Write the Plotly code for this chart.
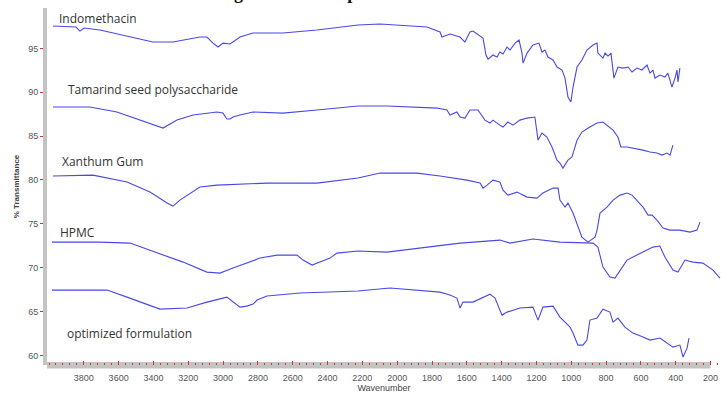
import plotly.graph_objects as go

# ---------------- data ----------------
indo_wn = [3977, 3845, 3822, 3799, 3707, 3518, 3403, 3288, 3133, 3093, 3058, 3029, 3001, 2960, 2903, 2828, 2656, 2461, 2225,
           2099, 2024, 1829, 1754, 1743, 1697, 1639, 1611, 1582, 1565, 1536, 1507, 1490, 1478, 1450, 1427, 1410, 1392, 1369,
           1352, 1323, 1300, 1283, 1277, 1254, 1220, 1186, 1168, 1151, 1134, 1105, 1082, 1053, 1036, 1019, 1002, 990, 967,
           939, 910, 875, 852, 847, 818, 806, 789, 772, 755, 732, 703, 674, 651, 623, 594, 565, 548, 531, 519, 491, 462,
           445, 422, 404, 393, 387, 376]
indo_t = [97.54, 97.43, 96.97, 97.32, 97.09, 96.29, 95.72, 95.72, 96.29, 96.29, 95.60, 95.15, 95.60, 95.49, 96.29, 96.75, 96.75,
          97.09, 97.66, 97.77, 97.66, 97.43, 96.86, 96.29, 96.63, 96.29, 95.72, 96.86, 96.97, 96.52, 96.17, 94.24, 93.78,
          94.24, 94.01, 94.58, 94.35, 95.15, 94.81, 95.60, 95.95, 94.46, 93.32, 94.46, 95.38, 95.60, 94.58, 94.81, 94.01,
          93.67, 92.87, 92.53, 91.61, 89.45, 88.88, 90.59, 92.87, 93.67, 94.81, 95.38, 95.60, 94.46, 93.89, 94.46, 94.12,
          94.46, 91.61, 92.87, 92.75, 92.87, 92.30, 92.75, 92.53, 93.10, 92.18, 92.53, 91.61, 91.96, 91.73, 92.18, 90.59,
          91.61, 92.53, 91.16, 92.75]

tamarind_wn = [3977, 3765, 3610, 3477, 3345, 3265, 3173, 3035, 3001, 2978, 2960, 2943, 2903, 2828, 2656, 2461, 2225, 2059,
               1771, 1714, 1697, 1657, 1639, 1611, 1582, 1536, 1496, 1467, 1450, 1410, 1392, 1364, 1335, 1295, 1254, 1209,
               1191, 1168, 1140, 1111, 1082, 1065, 1048, 1019, 996, 967, 939, 893, 852, 818, 789, 760, 732, 715, 680, 646,
               588, 548, 508, 479, 450, 433, 416]
tamarind_t = [88.31, 88.31, 87.74, 86.82, 85.91, 86.82, 87.40, 87.74, 87.62, 86.94, 86.94, 87.17, 87.40, 87.74, 87.62, 87.97,
              88.42, 88.42, 88.19, 87.97, 87.40, 87.74, 87.17, 87.05, 87.97, 87.97, 86.82, 86.48, 86.82, 86.25, 86.03, 86.60,
              86.25, 86.82, 87.05, 87.17, 84.54, 85.34, 84.89, 83.75, 82.26, 81.92, 81.35, 82.26, 82.61, 84.54, 85.46, 86.03,
              86.48, 86.60, 86.14, 85.68, 84.89, 83.75, 83.75, 83.63, 83.40, 83.18, 83.06, 82.83, 83.06, 82.83, 83.97]

xanthum_wn = [3977, 3747, 3552, 3420, 3322, 3288, 3248, 3133, 3035, 2748, 2461, 2225, 2099, 1886, 1754, 1599, 1524, 1507,
              1484, 1450, 1410, 1392, 1364, 1312, 1254, 1197, 1163, 1105, 1076, 1065, 1036, 1019, 990, 962, 939, 904, 864,
              852, 835, 795, 760, 720, 680, 651, 623, 588, 559, 536, 508, 473, 433, 376, 318, 278, 261]
xanthum_t = [80.44, 80.55, 79.76, 78.61, 77.36, 77.02, 77.70, 79.19, 79.41, 79.64, 79.64, 80.21, 80.78, 80.78, 80.44, 79.98,
             79.64, 79.07, 79.41, 79.98, 79.76, 78.84, 78.27, 78.61, 78.04, 77.93, 78.50, 79.07, 79.07, 77.70, 76.90, 77.36,
             76.22, 74.62, 73.48, 72.91, 73.48, 74.28, 76.22, 76.90, 77.70, 78.27, 78.50, 78.27, 77.70, 76.90, 75.99, 75.99,
             75.42, 74.51, 74.28, 74.28, 74.05, 74.28, 75.19]

hpmc_wn = [3983, 3707, 3535, 3420, 3230, 3093, 3018, 2943, 2788, 2690, 2576, 2541, 2489, 2444, 2386, 2346, 2225, 2059,
           1829, 1639, 1410, 1352, 1220, 1065, 875, 847, 818, 778, 749, 720, 680, 623, 531, 491, 462, 416, 387, 347,
           301, 244, 186, 146]
hpmc_t = [72.91, 72.91, 72.80, 72.00, 70.63, 69.49, 69.38, 69.95, 71.09, 71.43, 71.43, 70.86, 70.29, 70.63, 71.09, 71.66,
          71.89, 71.77, 72.34, 72.80, 73.14, 72.80, 73.26, 72.91, 72.80, 72.34, 70.06, 68.92, 68.81, 69.72, 70.86, 71.43,
          72.34, 72.46, 71.20, 69.72, 69.49, 70.86, 70.63, 70.52, 69.72, 68.81]

opt_wn = [3983, 3667, 3552, 3363, 3207, 3093, 2978, 2943, 2903, 2863, 2828, 2805, 2748, 2558, 2369, 2225, 2041, 1754, 1697,
          1657, 1639, 1622, 1565, 1467, 1438, 1398, 1369, 1295, 1220, 1191, 1163, 1105, 1065, 1007, 990, 962, 933, 910,
          893, 852, 818, 778, 760, 732, 692, 646, 588, 548, 491, 450, 416, 376, 358, 335, 324]
opt_t = [67.44, 67.44, 66.64, 65.27, 65.39, 66.07, 66.64, 66.07, 65.50, 65.61, 65.84, 66.30, 66.76, 67.10, 67.21, 67.33,
         67.67, 67.21, 66.87, 66.53, 65.39, 66.07, 66.07, 66.98, 66.53, 64.59, 64.93, 65.39, 65.50, 64.02, 65.50, 65.61,
         64.36, 63.22, 62.54, 61.17, 61.17, 61.74, 64.02, 64.25, 65.27, 64.93, 63.79, 64.25, 63.22, 62.54, 62.08, 61.74,
         61.97, 61.40, 60.94, 61.17, 59.80, 60.82, 61.97]

series_names = ["Indomethacin", "Tamarind seed polysaccharide", "Xanthum Gum", "HPMC", "optimized formulation"]
series_wn = [indo_wn, tamarind_wn, xanthum_wn, hpmc_wn, opt_wn]
series_t = [indo_t, tamarind_t, xanthum_t, hpmc_t, opt_t]

# label anchor points (wavenumber, %T)
label_wn = [3954, 3902, 3937, 3948, 3908]
label_t = [98.46, 90.36, 82.15, 74.05, 62.53]

x_tick_vals = [3800, 3600, 3400, 3200, 3000, 2800, 2600, 2400, 2200, 2000, 1800, 1600, 1400, 1200, 1000, 800, 600, 400, 200]
y_tick_vals = [60, 65, 70, 75, 80, 85, 90, 95]

title_text = "Figure 6: FTIR spectra"

# ---------------- figure ----------------
LINE = "rgb(72,72,232)"
fig = go.Figure()
for name, wn, t in zip(series_names, series_wn, series_t):
    fig.add_trace(go.Scatter(x=wn, y=t, mode="lines", name=name,
                             line=dict(color=LINE, width=1.1), showlegend=False))

for name, wn, t in zip(series_names, label_wn, label_t):
    fig.add_annotation(x=wn, y=t, text=name, showarrow=False, xanchor="left", yanchor="middle",
                       font=dict(family="Open Sans, Noto Sans, sans-serif", size=12, color="#333333"))

# partially cut-off title at the top of the image
fig.add_annotation(xref="paper", yref="paper", x=0.2507, y=1.0084, xanchor="left", yanchor="bottom",
                   text="<b>" + title_text + "</b>", showarrow=False,
                   font=dict(family="Liberation Serif, serif", size=18, color="#111111"))

# grey bottom bar (axis strip) from 4000 to 200
fig.add_shape(type="rect", xref="x", yref="paper", x0=4011.5, x1=200, y0=-0.0095, y1=0.0085,
              fillcolor="#c4c4c4", line=dict(width=0), layer="below")

fig.update_layout(
    width=721, height=394,
    margin=dict(l=47, r=0, t=8, b=29, autoexpand=False),
    paper_bgcolor="white", plot_bgcolor="white",
    xaxis=dict(range=[4011.5, 140], tickvals=x_tick_vals, showgrid=False, zeroline=False,
               showline=False, ticks="inside", ticklen=4, tickwidth=1, tickcolor="#e03030",
               minor=dict(dtick=40, tick0=0, ticks="inside", ticklen=2, tickcolor="#e03030"),
               tickfont=dict(family="Liberation Sans Narrow, Liberation Sans, sans-serif", size=9, color="#555555"),
               ticklabelstandoff=6, automargin=False,
               title=dict(text="Wavenumber", standoff=2,
                          font=dict(family="Liberation Sans Narrow, Liberation Sans, sans-serif", size=9, color="#444444"))),
    yaxis=dict(range=[58.9, 99.6], tickvals=y_tick_vals, showgrid=False, zeroline=False,
               showline=True, linecolor="#c4c4c4", linewidth=4, mirror=False,
               ticks="outside", ticklen=3, tickwidth=1, tickcolor="#e03030", automargin=False,
               tickfont=dict(family="Liberation Sans Narrow, Liberation Sans, sans-serif", size=9, color="#555555"),
               title=dict(text="<b>% Transmittance</b>", standoff=8,
                          font=dict(family="Liberation Sans Narrow, Liberation Sans, sans-serif", size=8, color="#444444"))),
)

fig.write_html("out.html", config={"displayModeBar": False},
               post_script="document.body.style.margin='0';document.body.style.overflow='hidden';")
